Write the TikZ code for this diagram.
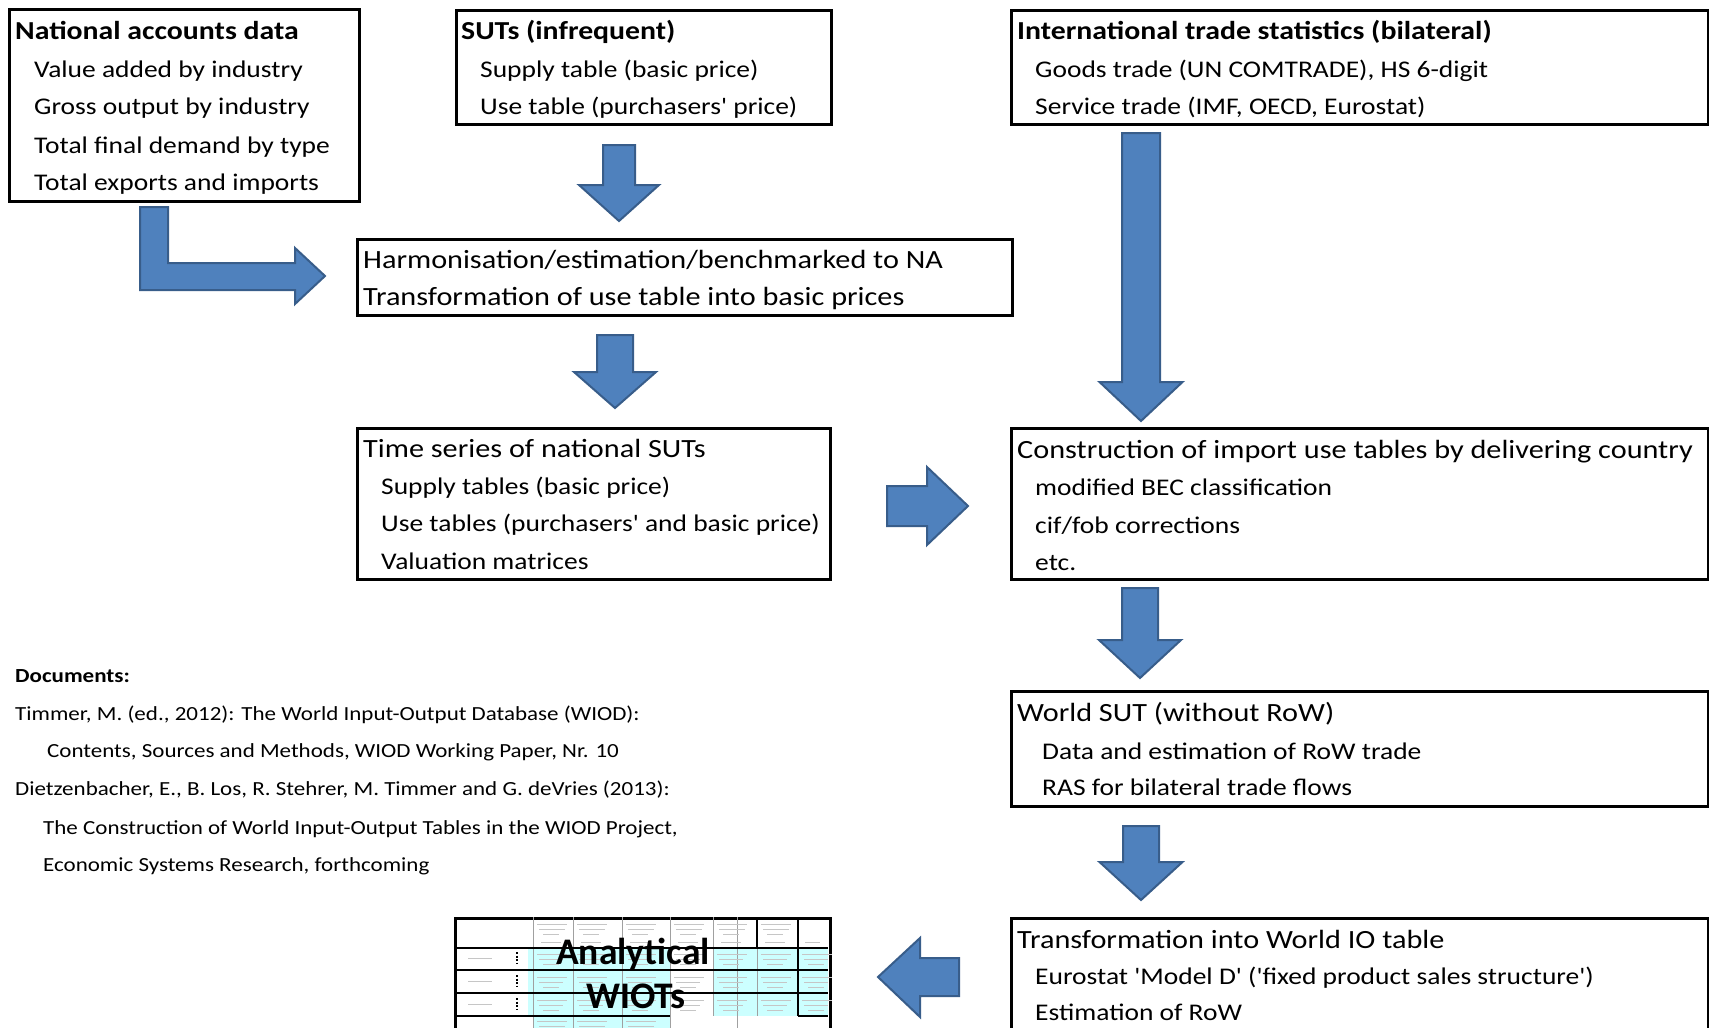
\documentclass[tikz,border=0pt]{standalone}
\usepackage{fontspec}
\setmainfont[FakeStretch=1.15, Ligatures=TeXOff]{Carlito}
\newfontfamily\plainfont{Carlito}
\definecolor{arrfill}{HTML}{4F81BD}
\definecolor{arredge}{HTML}{385D8A}
\definecolor{cellcyan}{HTML}{CCFFFF}
\definecolor{gridgray}{HTML}{A0A0A0}
\newcommand{\fsTitle}{\fontsize{26.3}{30}\selectfont}
\newcommand{\fsItem}{\fontsize{23.9}{28}\selectfont}
\newcommand{\fsBold}{\fontsize{25.9}{30}\selectfont\bfseries}
\newcommand{\fsDoc}{\fontsize{20}{24}\selectfont}
\newcommand{\blkdown}[6]{% cx, shaft half, head half, top, neck, tip
  \filldraw[blk] (#1-#2,#4) -- (#1+#2,#4) -- (#1+#2,#5) -- (#1+#3,#5) -- (#1,#6) -- (#1-#3,#5) -- (#1-#2,#5) -- cycle;}
\tikzset{
  box/.style={draw=black, line width=3pt, fill=white, anchor=north west, inner sep=0pt, rectangle},
  ttl/.style={anchor=base west, inner sep=0pt, font=\fsTitle},
  btl/.style={anchor=base west, inner sep=0pt, font=\fsBold},
  itm/.style={anchor=base west, inner sep=0pt, font=\fsItem},
  doc/.style={anchor=base west, inner sep=0pt, font=\fsDoc},
  blk/.style={fill=arrfill, draw=arredge, line width=2pt, line join=miter},
  tiny/.style={draw=gridgray!60, line width=0.7pt},
}
\begin{document}
\begin{tikzpicture}[x=1pt,y=-1pt]
\useasboundingbox (0,0) rectangle (1709,1028);
\clip (0,0) rectangle (1709,1028);
\fill[white] (0,0) rectangle (1709,1028);

% ---------- boxes ----------
\node[box, minimum width=350pt, minimum height=192pt] (na) at (8,8) {};
\node[box, minimum width=375pt, minimum height=114pt] (suts) at (455,9) {};
\node[box, minimum width=697pt, minimum height=114pt] (intl) at (1010,9) {};
\node[box, minimum width=655pt, minimum height=76pt] (harm) at (356,238) {};
\node[box, minimum width=473pt, minimum height=151pt] (ts) at (356,427) {};
\node[box, minimum width=697pt, minimum height=151pt] (cons) at (1010,427) {};
\node[box, minimum width=697pt, minimum height=115pt] (wsut) at (1010,690) {};
\node[box, minimum width=697pt, minimum height=140pt] (trans) at (1010,917) {};

% ---------- texts ----------
\node[btl] (naT) at (15,39.5) {National accounts data};
\node[itm] (na1) at (34,77) {Value added by industry};
\node[itm] (na2) at (34,114) {Gross output by industry};
\node[itm] (na3) at (34,153) {Total final demand by type};
\node[itm] (na4) at (34,190) {Total exports and imports};

\node[btl] (sutsT) at (461,39.5) {SUTs (infrequent)};
\node[itm] (suts1) at (480,77) {Supply table (basic price)};
\node[itm] (suts2) at (480,114) {Use table (purchasers' price)};

\node[btl] (intlT) at (1017,39.5) {International trade statistics (bilateral)};
\node[itm] (intl1) at (1035,77) {Goods trade (UN COMTRADE), HS 6-digit};
\node[itm] (intl2) at (1035,114) {Service trade (IMF, OECD, Eurostat)};

\node[ttl] (harm1) at (363,268) {Harmonisation/estimation/benchmarked to NA};
\node[ttl] (harm2) at (363,305) {Transformation of use table into basic prices};

\node[ttl] (tsT) at (363,457) {Time series of national SUTs};
\node[itm] (ts1) at (381,494) {Supply tables (basic price)};
\node[itm] (ts2) at (381,531) {Use tables (purchasers' and basic price)};
\node[itm] (ts3) at (381,569) {Valuation matrices};

\node[ttl] (consT) at (1017,458) {Construction of import use tables by delivering country};
\node[itm] (cons1) at (1035,495) {modified BEC classification};
\node[itm] (cons2) at (1035,533) {cif/fob corrections};
\node[itm] (cons3) at (1035,570) {etc.};

\node[ttl] (wsutT) at (1017,721) {World SUT (without RoW)};
\node[itm] (wsut1) at (1042,759) {Data and estimation of RoW trade};
\node[itm] (wsut2) at (1042,795) {RAS for bilateral trade flows};

\node[ttl] (transT) at (1017,948) {Transformation into World IO table};
\node[itm] (trans1) at (1035,984) {Eurostat 'Model D' ('fixed product sales structure')};
\node[itm] (trans2) at (1035,1020) {Estimation of RoW};

% ---------- documents ----------
\node[doc, font=\fsDoc\bfseries] (docT) at (15,682) {Documents:};
\node[doc] (doc1) at (15,720) {Timmer, M. (ed., 2012): The World Input-Output Database (WIOD):};
\node[doc] (doc2) at (47,757.5) {Contents, Sources and Methods, WIOD Working Paper, Nr. 10};
\node[doc] (doc3) at (15,795.5) {Dietzenbacher, E., B. Los, R. Stehrer, M. Timmer and G. deVries (2013):};
\node[doc] (doc4) at (43,834.5) {The Construction of World Input-Output Tables in the WIOD Project,};
\node[doc] (doc5) at (43,871.5) {Economic Systems Research, forthcoming};

% ---------- WIOT picture ----------
\node[box, minimum width=375pt, minimum height=140pt] (wiot) at (454,917) {};
\fill[cellcyan] (528,948) rectangle (670,1016);
\fill[cellcyan] (713,948) rectangle (828,1016);
\fill[cellcyan] (533,1016) rectangle (670,1028);
\foreach \xx in {533,573,622,670,713,757,798} {
  \draw[gridgray, line width=1pt] (\xx,917) -- (\xx,1016);
}
\draw[gridgray, line width=1pt] (533,1016) -- (533,1028);
\draw[gridgray, line width=1pt] (573,1016) -- (573,1028);
\draw[gridgray, line width=1pt] (622,1016) -- (622,1028);
\draw[gridgray, line width=1pt] (670,1016) -- (670,1028);
\draw[gridgray, line width=1pt] (737,917) -- (737,1028);
\draw[black, line width=2pt] (454,948) -- (828,948);
\draw[black, line width=1.6pt] (454,970) -- (828,970);
\draw[black, line width=1.6pt] (454,993) -- (828,993);
\draw[black, line width=1.6pt] (454,1016) -- (670,1016);
\draw[black, line width=1.6pt] (798,1016) -- (828,1016);
\draw[black, line width=1.6pt] (798,917) -- (798,1016);
\draw[black, line width=1.6pt] (757,917) -- (757,948);
\foreach \yy in {952,975,998} {
  \draw[black, line width=1.2pt, dash pattern=on 2pt off 1.5pt] (517,\yy) -- (517,\yy+12);
}
% tiny unreadable cell text
\foreach \yy in {958,981,1004} {
  \draw[tiny] (468,\yy) -- (492,\yy);
  \foreach \xx in {537,577,626,674,717,761,802} {
    \draw[tiny] (\xx,\yy-4) -- (\xx+30,\yy-4);
    \draw[tiny] (\xx+2,\yy+1) -- (\xx+26,\yy+1);
    \draw[tiny] (\xx+6,\yy+6) -- (\xx+22,\yy+6);
  }
}
\foreach \xx in {537,577,626,674,717,761} {
  \draw[tiny] (\xx,924) -- (\xx+30,924);
  \draw[tiny] (\xx+2,929) -- (\xx+28,929);
  \draw[tiny] (\xx+6,934) -- (\xx+22,934);
  \draw[tiny] (\xx+4,942) -- (\xx+24,942);
}
\draw[tiny] (805,942) -- (820,942);
\foreach \xx in {537,577,626} {
  \draw[tiny] (\xx,1021) -- (\xx+30,1021);
  \draw[tiny] (\xx+2,1026) -- (\xx+28,1026);
}
\node[font=\plainfont\bfseries\fontsize{37.5}{40}\selectfont, inner sep=0pt] (anl) at (633,954) {Analytical};
\node[font=\plainfont\bfseries\fontsize{37.5}{40}\selectfont, inner sep=0pt] (wts) at (636,996) {WIOTs};

% ---------- block arrows ----------
\blkdown{619}{16}{40}{145}{185}{221}
\blkdown{615}{18}{41}{335}{372}{408}
\blkdown{1141}{19}{41.5}{133}{382}{421}
\blkdown{1140}{18}{41}{588}{640}{678}
\blkdown{1141}{18}{41.5}{826}{862}{900}
% L-shaped arrow NA -> Harmonisation
\filldraw[blk] (140,207) -- (168,207) -- (168,263) -- (295,263) -- (295,248) -- (325,276) -- (295,304) -- (295,290) -- (140,290) -- cycle;
% right arrow TS -> Construction
\filldraw[blk] (887,486) -- (927,486) -- (927,467) -- (968,506) -- (927,545) -- (927,526) -- (887,526) -- cycle;
% left arrow Transformation -> WIOTs
\filldraw[blk] (959,958) -- (920,958) -- (920,938) -- (878,977) -- (920,1017) -- (920,996) -- (959,996) -- cycle;
\end{tikzpicture}
\end{document}
